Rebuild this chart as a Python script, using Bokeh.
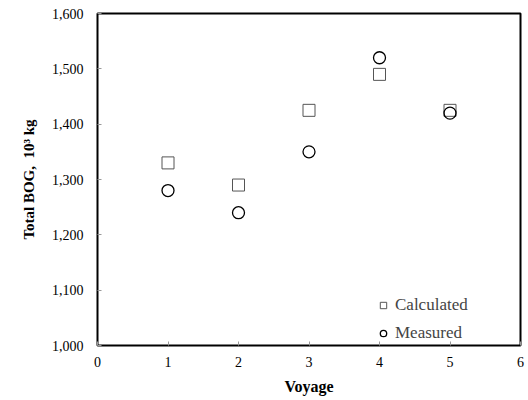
from bokeh.plotting import figure
from bokeh.embed import file_html
from bokeh.resources import INLINE
from bokeh.models import NumeralTickFormatter, FixedTicker, Range1d, Legend, LegendItem

voyage = [1, 2, 3, 4, 5]
calculated = [1330, 1290, 1425, 1490, 1425]
measured = [1280, 1240, 1350, 1520, 1420]
x_ticks = [0, 1, 2, 3, 4, 5, 6]
y_ticks = [1000, 1100, 1200, 1300, 1400, 1500, 1600]

p = figure(width=528, height=400, output_backend="svg", toolbar_location=None,
           x_range=Range1d(0, 6), y_range=Range1d(1000, 1600),
           min_border_left=97, min_border_right=8, min_border_top=13, min_border_bottom=55)
p.background_fill_color = "white"
p.border_fill_color = "white"
p.outline_line_color = "black"
p.outline_line_width = 2
p.xgrid.visible = False
p.ygrid.visible = False

serif = "Liberation Serif"
for ax in (p.xaxis, p.yaxis):
    ax.axis_line_color = None
    ax.major_tick_in = 4
    ax.major_tick_out = 0
    ax.major_tick_line_color = "#999999"
    ax.minor_tick_line_color = None
    ax.major_label_text_font = serif
    ax.major_label_text_font_size = "14px"
    ax.major_label_text_color = "black"
    ax.axis_label_text_font = serif
    ax.axis_label_text_font_style = "bold"
    ax.axis_label_text_color = "black"

p.xaxis.axis_label_text_font_size = "16px"
p.yaxis.axis_label_text_font_size = "15px"
p.xaxis.ticker = FixedTicker(ticks=x_ticks)
p.yaxis.ticker = FixedTicker(ticks=y_ticks)
p.yaxis.formatter = NumeralTickFormatter(format="0,0")
p.xaxis.axis_label = "Voyage"
p.yaxis.axis_label = "Total BOG,\u00a0\u00a010³ kg"
p.xaxis.major_label_standoff = 11
p.yaxis.major_label_standoff = 14
p.xaxis.axis_label_standoff = 8
p.yaxis.axis_label_standoff = 12

r1 = p.scatter(voyage, calculated, marker="square", size=12, fill_color=None,
               line_color="#555555", line_width=1)
r2 = p.scatter(voyage, measured, marker="circle", size=12, fill_color=None,
               line_color="black", line_width=1.3)

legend = Legend(items=[LegendItem(label="Calculated", renderers=[r1]),
                       LegendItem(label="Measured", renderers=[r2])],
                location=(278, 2))
legend.background_fill_alpha = 0
legend.border_line_color = None
legend.label_text_font = serif
legend.label_text_font_size = "17px"
legend.glyph_width = 16
legend.glyph_height = 16
legend.label_standoff = 4
legend.spacing = 8
p.add_layout(legend, "center")

open("out.html", "w").write(file_html(p, INLINE))
